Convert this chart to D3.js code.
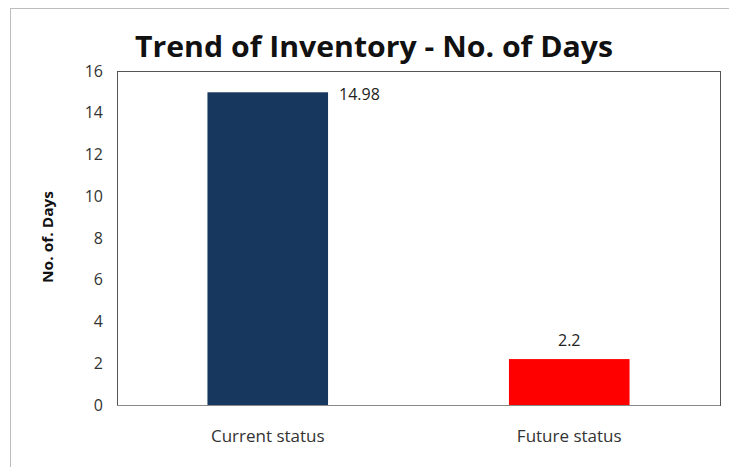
<!DOCTYPE html>
<html>
<head>
<meta charset="utf-8">
<script src="https://cdn.jsdelivr.net/npm/d3@7"></script>
<style>
  body { margin: 0; background: #fff; }
  svg { display: block; font-family: 'Open Sans', 'DejaVu Sans', sans-serif; }
</style>
</head>
<body>
<div id="chart"></div>
<script>
const categories = ['Current status', 'Future status']
const values = [14.98, 2.2]
const valueLabels = ['14.98', '2.2']
const barColors = ['#17375e', '#ff0000']
const yTicks = [0, 2, 4, 6, 8, 10, 12, 14, 16]

const W = 729, H = 467
const plot = { left: 117, top: 71, right: 720, bottom: 405 }

const svg = d3.select('#chart').append('svg').attr('width', W).attr('height', H)

// outer chart frame
svg.append('rect')
  .attr('x', 10.5).attr('y', 8.5)
  .attr('width', W).attr('height', H)
  .attr('fill', 'none').attr('stroke', '#bdbdbd')

const x = d3.scaleBand().domain(categories).range([plot.left, plot.right]).paddingInner(0.6).paddingOuter(0.3)
const y = d3.scaleLinear().domain([0, 16]).range([plot.bottom, plot.top])

// plot area border
svg.append('rect')
  .attr('x', plot.left + 0.5).attr('y', plot.top + 0.5)
  .attr('width', plot.right - plot.left).attr('height', plot.bottom - plot.top)
  .attr('fill', 'none').attr('stroke', '#555')

svg.append('line')
  .attr('x1', plot.left).attr('x2', plot.right)
  .attr('y1', plot.bottom + 0.5).attr('y2', plot.bottom + 0.5)
  .attr('stroke', '#888')

// bars
svg.selectAll('.bar').data(values).enter().append('rect')
  .attr('class', 'bar')
  .attr('x', (d, i) => x(categories[i]))
  .attr('width', x.bandwidth())
  .attr('y', d => y(d))
  .attr('height', d => y(0) - y(d))
  .attr('fill', (d, i) => barColors[i])

// value labels: the tall bar gets its label beside the top, the short one above
svg.selectAll('.vlabel').data(values).enter().append('text')
  .attr('class', 'vlabel')
  .attr('x', (d, i) => i === 0 ? x(categories[i]) + x.bandwidth() + 11 : x(categories[i]) + x.bandwidth() / 2)
  .attr('y', (d, i) => i === 0 ? y(d) + 8 : y(d) - 13)
  .attr('text-anchor', (d, i) => i === 0 ? 'start' : 'middle')
  .attr('font-size', 16)
  .attr('fill', '#222')
  .text((d, i) => valueLabels[i])

// y axis labels
const yAxis = svg.append('g').attr('transform', `translate(${plot.left},0)`)
  .call(d3.axisLeft(y).tickValues(yTicks).tickSize(0).tickPadding(14))
yAxis.select('.domain').remove()
yAxis.selectAll('text').attr('font-size', 16).attr('fill', '#333')
  .attr('font-family', "'Open Sans', sans-serif").attr('text-anchor', 'end').attr('dx', 0)

// x axis labels
const xAxis = svg.append('g').attr('transform', `translate(0,${plot.bottom})`)
  .call(d3.axisBottom(x).tickSize(0).tickPadding(25))
xAxis.select('.domain').remove()
xAxis.selectAll('text').attr('font-size', 17).attr('fill', '#333')
  .attr('font-family', "'Open Sans', sans-serif")

// y title
svg.append('text')
  .attr('transform', `translate(53,237) rotate(-90)`)
  .attr('text-anchor', 'middle')
  .attr('font-size', 15).attr('font-weight', 'bold')
  .attr('fill', '#111')
  .attr('textLength', 92).attr('lengthAdjust', 'spacingAndGlyphs')
  .text('No. of. Days')

// chart title
svg.append('text')
  .attr('x', 374).attr('y', 57)
  .attr('text-anchor', 'middle')
  .attr('font-size', 28).attr('font-weight', 'bold')
  .attr('fill', '#111')
  .attr('textLength', 478).attr('lengthAdjust', 'spacingAndGlyphs')
  .text('Trend of Inventory - No. of Days')
</script>
</body>
</html>
